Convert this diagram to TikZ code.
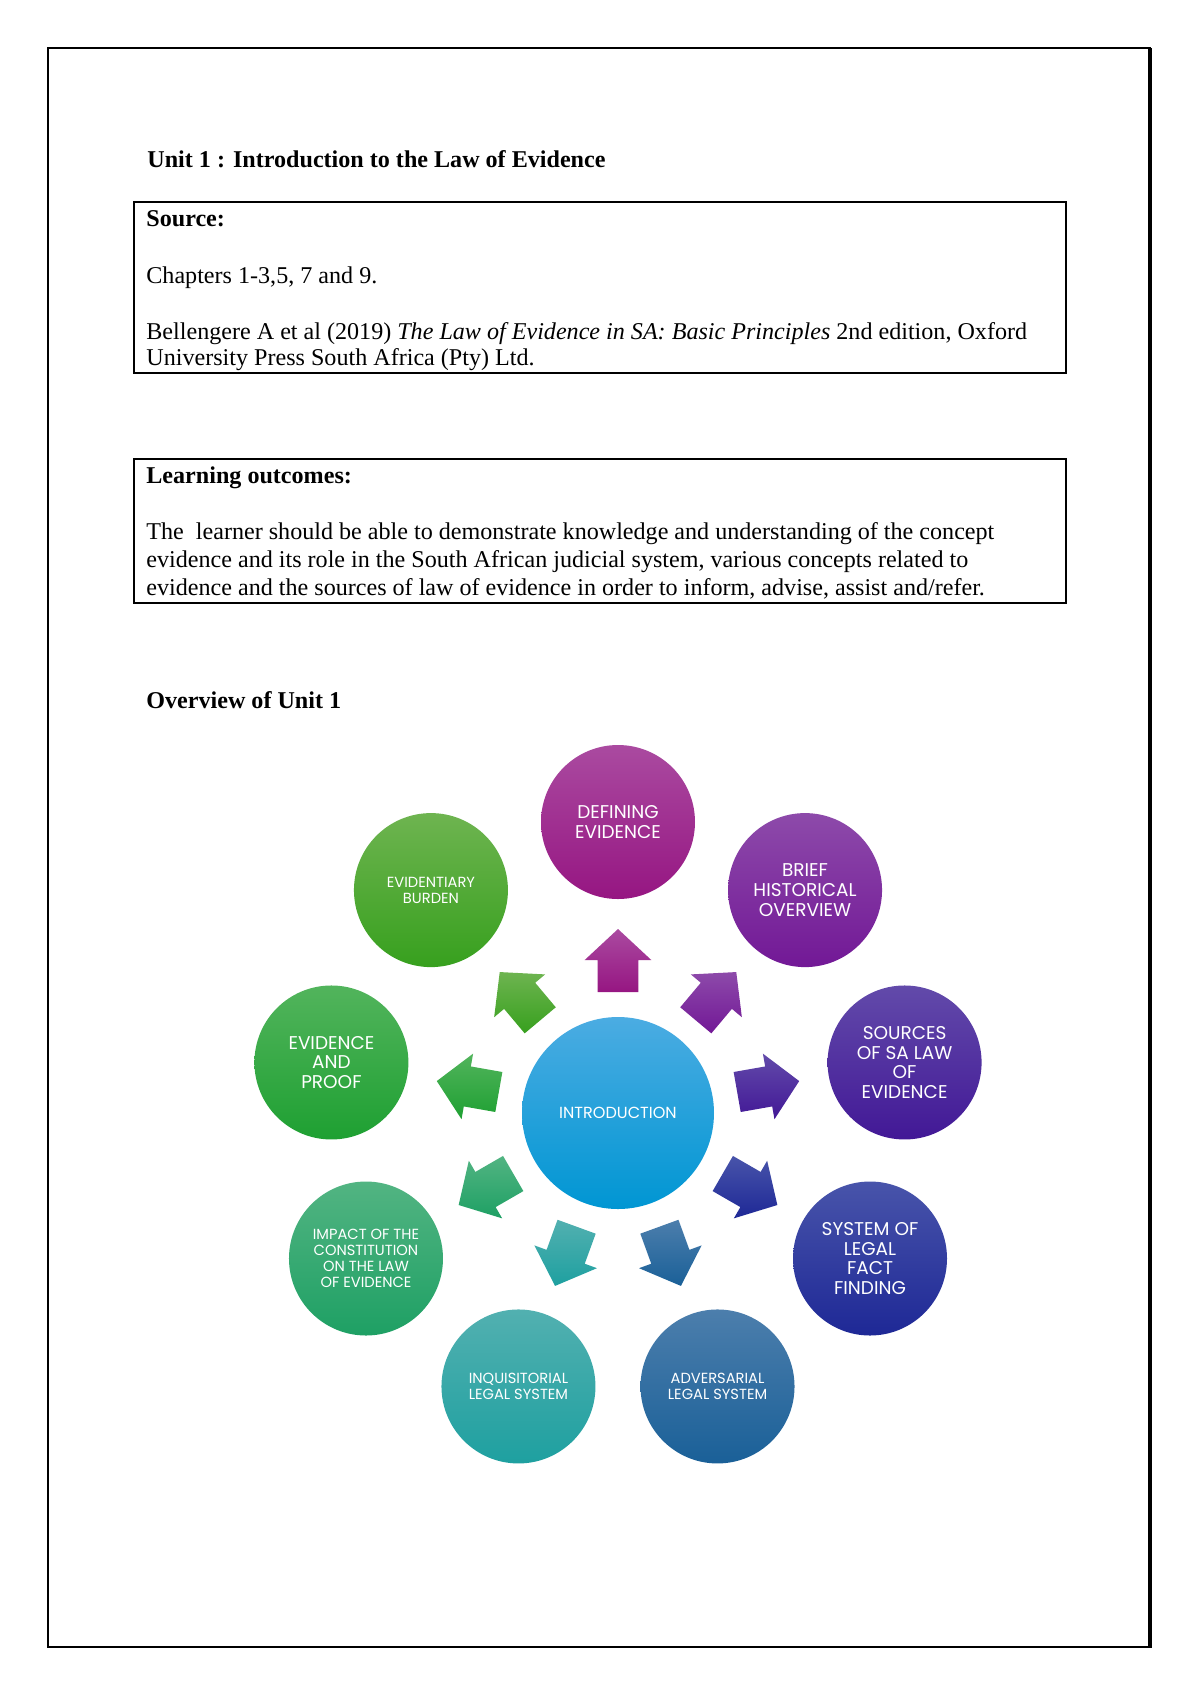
\documentclass[tikz,border=0pt]{standalone}
\usepackage{fontspec}
\setmainfont{Liberation Serif}
\newfontfamily\topicfont{Poppins}
\usetikzlibrary{
	calc		% Allows ($(a)+(b)$) style coordinates
}

%% Shading colours of the topics (top / bottom)
\definecolor{introtop}{RGB}{75,172,226}
\definecolor{introbot}{RGB}{0,150,211}
\definecolor{definingtop}{RGB}{170,74,160}
\definecolor{definingbot}{RGB}{150,22,130}
\definecolor{historicaltop}{RGB}{141,74,170}
\definecolor{historicalbot}{RGB}{114,24,150}
\definecolor{sourcestop}{RGB}{98,74,170}
\definecolor{sourcesbot}{RGB}{66,24,150}
\definecolor{factfindingtop}{RGB}{72,84,170}
\definecolor{factfindingbot}{RGB}{30,40,150}
\definecolor{adversarialtop}{RGB}{76,126,172}
\definecolor{adversarialbot}{RGB}{26,96,152}
\definecolor{inquisitorialtop}{RGB}{82,176,176}
\definecolor{inquisitorialbot}{RGB}{30,160,160}
\definecolor{impacttop}{RGB}{82,180,130}
\definecolor{impactbot}{RGB}{30,160,100}
\definecolor{prooftop}{RGB}{82,180,92}
\definecolor{proofbot}{RGB}{30,160,50}
\definecolor{burdentop}{RGB}{110,180,80}
\definecolor{burdenbot}{RGB}{55,160,30}

\begin{document}
\begin{tikzpicture}[x=0.175mm, y=-0.175mm
		, page/.style={draw, line width=0.23mm}
		, textbox/.style={draw, line width=0.35mm}
		, line/.style={anchor=base west, inner sep=0pt, font=\fontsize{12}{14}\selectfont}
		, heading/.style={line, font=\fontsize{12}{14}\selectfont\bfseries}
		, topic/.style={circle, inner sep=0pt, minimum size=154*0.175mm, text=white, align=center}
		, topicshade/.style={top color=shadetop, bottom color=shadebot}
		, bigtext/.style={font=\topicfont\fontsize{9.2}{9.8}\selectfont}
		, smalltext/.style={font=\topicfont\fontsize{7.3}{7.9}\selectfont}]

		\useasboundingbox (0,0) rectangle (1200,1696);

		%%% Page frame
		\draw[page] (48,48) rectangle (1150,1647);
		\draw[line width=0.55mm] (1150,48) -- (1150,1648);

		%%% Header
		\node[heading] (unittitle) at (147,167) {Unit 1 : Introduction to the Law of Evidence};

		%% Source
		\draw[textbox] (134,202) rectangle (1066,373);
		\node[heading] (sourcelabel) at (146,226) {Source:};
		\node[line] (chapters) at (146,283) {Chapters 1-3,5, 7 and 9.};
		\node[line] (bookline) at (146,339) {Bellengere A et al (2019) \textit{The Law of Evidence in SA: Basic Principles} 2nd edition, Oxford};
		\node[line] (publisher) at (146,365) {University Press South Africa (Pty) Ltd.};

		%% Learning outcomes
		\draw[textbox] (134,459) rectangle (1066,603);
		\node[heading] (outcomeslabel) at (146,483) {Learning outcomes:};
		\node[line] (outcomeone) at (146,539) {The\ \ learner should be able to demonstrate knowledge and understanding of the concept};
		\node[line] (outcometwo) at (146,567) {evidence and its role in the South African judicial system, various concepts related to};
		\node[line] (outcomethree) at (146,595) {evidence and the sources of law of evidence in order to inform, advise, assist and/refer.};

		%% Overview
		\node[heading] (overviewlabel) at (146,708) {Overview of Unit 1};

		%%% Central topic
		\colorlet{shadetop}{introtop}
		\colorlet{shadebot}{introbot}
		\node[topic, topicshade, font=\topicfont\fontsize{8}{9}\selectfont, minimum size=192*0.175mm] (intro) at (618,1113) {INTRODUCTION};

		%%% Topics around the centre, clockwise from the top, each with its arrow
		\foreach [count=\i] \topicname/\size/\txt in {%
				defining/bigtext/DEFINING\\EVIDENCE%
				, historical/bigtext/BRIEF\\HISTORICAL\\OVERVIEW%
				, sources/bigtext/SOURCES\\OF SA LAW\\OF\\EVIDENCE%
				, factfinding/bigtext/SYSTEM OF\\LEGAL\\FACT\\FINDING%
				, adversarial/smalltext/ADVERSARIAL\\LEGAL SYSTEM%
				, inquisitorial/smalltext/INQUISITORIAL\\LEGAL SYSTEM%
				, impact/smalltext/IMPACT OF THE\\CONSTITUTION\\ON THE LAW\\OF EVIDENCE%
				, proof/bigtext/EVIDENCE\\AND\\PROOF%
				, burden/smalltext/EVIDENTIARY\\BURDEN} {

			\pgfmathsetmacro{\ang}{-90 + 40*(\i - 1)}
			\colorlet{shadetop}{\topicname top}
			\colorlet{shadebot}{\topicname bot}

			% The topic circle
			\node[topic, topicshade, \size] (\topicname) at ($(intro)+(\ang:291)$) {\txt};

			% The block arrow from the centre to it
			\shade[topicshade]
				($(intro)+(\ang:121)+(\ang+90:20.3)$) -- ($(intro)+(\ang:153)+(\ang+90:20.3)$)
				-- ($(intro)+(\ang:153)+(\ang+90:33.3)$) -- ($(intro)+(\ang:184)$)
				-- ($(intro)+(\ang:153)+(\ang-90:33.3)$) -- ($(intro)+(\ang:153)+(\ang-90:20.3)$)
				-- ($(intro)+(\ang:121)+(\ang-90:20.3)$) -- cycle;
		};
	\end{tikzpicture}
\end{document}
